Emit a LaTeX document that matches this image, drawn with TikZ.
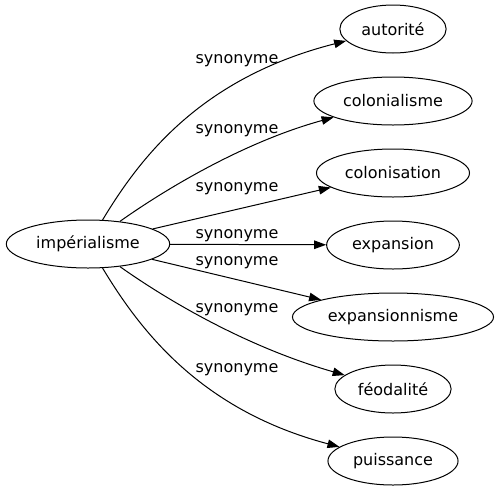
\documentclass[tikz,border=0pt]{standalone}
\usepackage{fontspec}
\setmainfont{DejaVu Sans}
\usetikzlibrary{arrows.meta, positioning, shapes.geometric}

\begin{document}
\begin{tikzpicture}[x=1pt, y=-1pt, line width=1pt, node distance=72pt, >={Triangle[length=12pt,width=8.5pt]}, font=\fontsize{16}{19}\selectfont]
		
		% Define block styles
		\tikzstyle{word} = [ellipse, draw, minimum height=48pt, inner xsep=6pt, inner ysep=0pt, text centered]
		\tikzstyle{rel} = [inner sep=0pt, text centered]
		
		\useasboundingbox (0,0) rectangle (496,491);
		
		% Nodes
		\node[word] (imperialisme) at (88,244) {impérialisme};
		\node[word] (autorite) at (393,29) {autorité};
		\node[word, below of=autorite] (colonialisme) {colonialisme};
		\node[word, below of=colonialisme] (colonisation) {colonisation};
		\node[word, below of=colonisation] (expansion) {expansion};
		\node[word, below of=expansion] (expansionnisme) {expansionnisme};
		\node[word, below of=expansionnisme] (feodalite) {féodalité};
		\node[word, below of=feodalite] (puissance) {puissance};
		
		% Arrows
		\draw[->] (imperialisme) .. controls (140,158) and (200,78) .. (autorite);
		\draw[->] (imperialisme) .. controls (160,193) and (240,143) .. (colonialisme);
		\draw[->] (imperialisme) -- (colonisation);
		\draw[->] (imperialisme) -- (expansion);
		\draw[->] (imperialisme) -- (expansionnisme);
		\draw[->] (imperialisme) .. controls (160,295) and (240,345) .. (feodalite);
		\draw[->] (imperialisme) .. controls (140,330) and (200,410) .. (puissance);
		
		% Labels
		\node[rel] (syn1) at (237,61) {synonyme};
		\node[rel] (syn2) at (237,130.5) {synonyme};
		\node[rel] (syn3) at (237,189) {synonyme};
		\node[rel] (syn4) at (237,236) {synonyme};
		\node[rel] (syn5) at (237,263) {synonyme};
		\node[rel] (syn6) at (237,309.5) {synonyme};
		\node[rel] (syn7) at (237,369.5) {synonyme};
		
	\end{tikzpicture}
\end{document}
